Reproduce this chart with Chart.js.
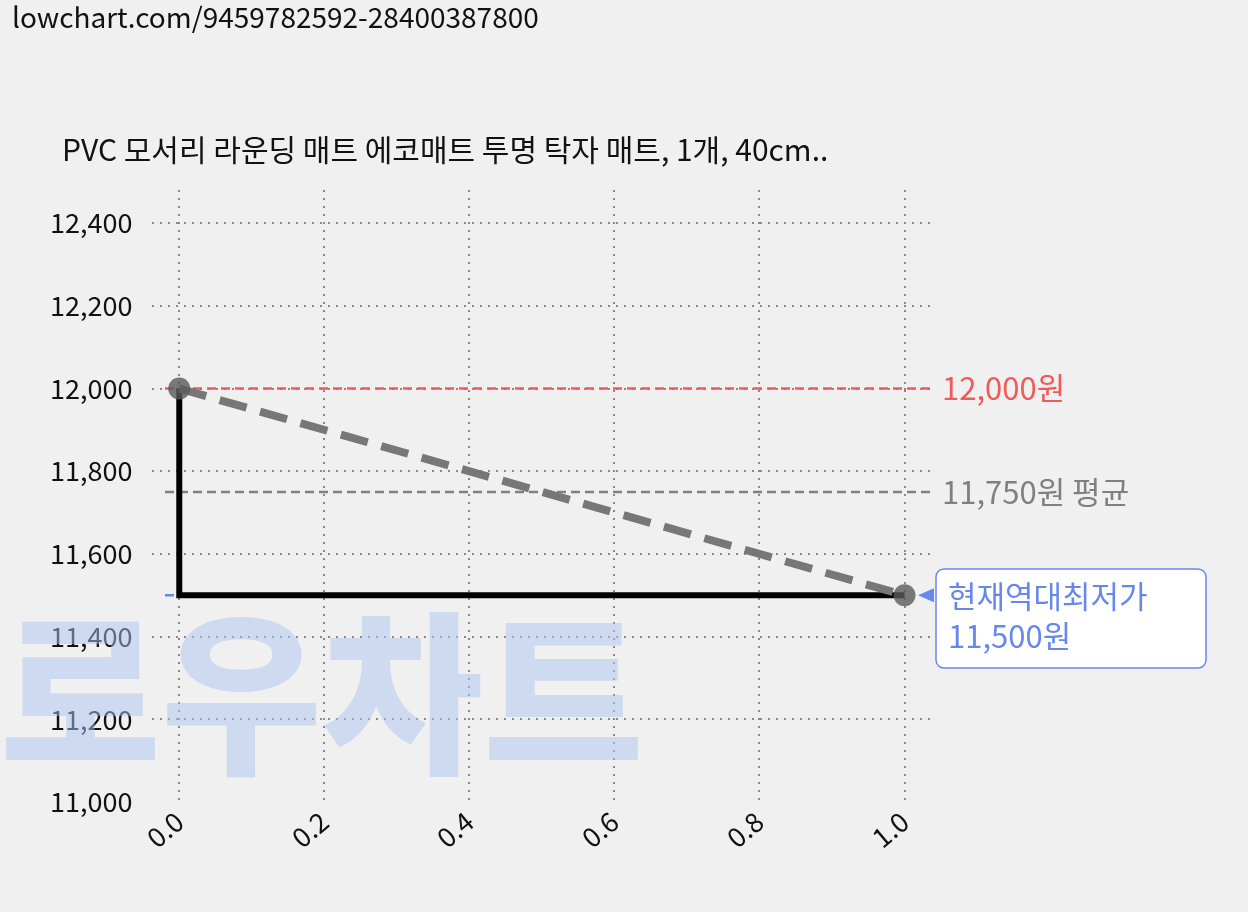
<!DOCTYPE html>
<html><head><meta charset="utf-8">
<script src="https://cdn.jsdelivr.net/npm/chart.js@4/dist/chart.umd.min.js"></script>
<style>html,body{margin:0;background:#f0f0f0}#w{position:relative;width:1248px;height:912px}
#u{position:absolute;left:12px;top:-4px;font:28px "Noto Sans CJK KR";color:#111}
</style></head><body><div id="w"><div id="u">lowchart.com/9459782592-28400387800</div><canvas id="c" width="1248" height="912"></canvas></div>
<script>
const title='PVC 모서리 라운딩 매트 에코매트 투명 탁자 매트, 1개, 40cm..';
const xTicks=[0,0.2,0.4,0.6,0.8,1.0];
const yTicks=[11000,11200,11400,11600,11800,12000,12200,12400];
const trendX=[0,1], trendY=[12000,11500];
const stepX=[0,0,1], stepY=[12000,11500,11500];
const maxPrice=12000, avgPrice=11750, minPrice=11500;
const F='"Noto Sans CJK KR",sans-serif';
const plug={id:'p',
beforeDatasetsDraw(c){const x=c.scales.x,y=c.scales.y,g=c.ctx;g.save();
 g.font='900 175px "Noto Sans CJK KR"';g.fillStyle='rgba(170,195,240,0.5)';g.textBaseline='alphabetic';g.fillText('로우차트',0,760);
 const hl=(v,col,x0,x1)=>{g.strokeStyle=col;g.lineWidth=2.5;g.setLineDash([9,5]);g.beginPath();g.moveTo(x0,y.getPixelForValue(v));g.lineTo(x1,y.getPixelForValue(v));g.stroke();};
 hl(maxPrice,'#f05a5a',165,935);hl(avgPrice,'#808080',165,935);hl(minPrice,'#6688ee',165,905);
 g.restore();},
afterDatasetsDraw(c){const x=c.scales.x,y=c.scales.y,g=c.ctx;g.save();g.setLineDash([]);
 g.textBaseline='middle';g.fillStyle='#111';g.font='30px '+F;g.fillText(title,62,150);
 g.font='31px '+F;
 g.fillStyle='#f05a5a';g.fillText('12,000원',942,y.getPixelForValue(maxPrice));
 g.fillStyle='#808080';g.fillText('11,750원 평균',942,y.getPixelForValue(avgPrice));
 const py=y.getPixelForValue(minPrice);
 g.fillStyle='#fff';g.strokeStyle='#6688ee';g.lineWidth=1.5;g.beginPath();g.roundRect(936,569,270,99,8);g.fill();g.stroke();
 g.fillStyle='#6688ee';g.fillText('현재역대최저가',948,596);g.fillText('11,500원',948,636);
 g.beginPath();g.moveTo(918,py);g.lineTo(934,py-7);g.lineTo(934,py+7);g.fill();
 g.restore();}};
new Chart(document.getElementById('c'),{type:'scatter',
data:{datasets:[
 {data:trendX.map((v,i)=>({x:v,y:trendY[i]})),showLine:true,borderColor:'#777',borderWidth:8,borderDash:[28,14],pointRadius:11,pointBackgroundColor:'rgba(90,90,90,0.8)',pointBorderWidth:0},
 {data:stepX.map((v,i)=>({x:v,y:stepY[i]})),showLine:true,borderColor:'#000',borderWidth:6,pointRadius:0}
]},
options:{responsive:false,animation:false,
 layout:{padding:{top:190,right:313,left:30,bottom:55}},
 plugins:{legend:{display:false},tooltip:{enabled:false}},
 scales:{
  x:{type:'linear',min:-0.037,max:1.042,afterBuildTicks:s=>{s.ticks=xTicks.map(v=>({value:v}))},
   ticks:{color:'#111',font:{family:F,size:27},maxRotation:40,minRotation:40,callback:v=>v.toFixed(1)},
   grid:{color:'#888',lineWidth:2,drawTicks:false},border:{display:false,dash:[2,6]}},
  y:{min:11000,max:12480,afterBuildTicks:s=>{s.ticks=yTicks.map(v=>({value:v}))},
   ticks:{color:'#111',font:{family:F,size:27},padding:20,callback:v=>v.toLocaleString('en-US')},
   grid:{color:c=>c.tick&&c.tick.value===11000?'rgba(0,0,0,0)':'#888',lineWidth:2,drawTicks:false},border:{display:false,dash:[2,6]}}
 }},plugins:[plug]});
</script></body></html>
